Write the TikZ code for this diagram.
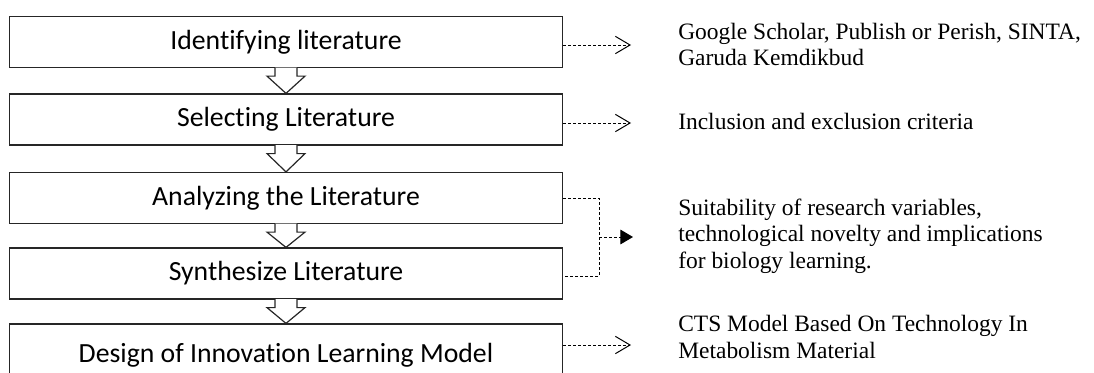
\documentclass[tikz,border=0pt]{standalone}
\usepackage{fontspec}
\setmainfont{Liberation Serif}
\newfontfamily\calibri[Ligatures={NoCommon}]{Carlito}
\usetikzlibrary{arrows.meta,calc}

\begin{document}
\begin{tikzpicture}[x=0.75pt, y=-0.75pt,
    stage/.style={draw=black!85, line width=0.9pt, minimum width=415pt,
        minimum height=38.25pt, inner sep=0pt,
        font=\calibri\fontsize{20.8}{24}\selectfont},
    note/.style={anchor=west, align=left, inner sep=0pt,
        font=\fontsize{17.6}{19.9}\selectfont},
    dashline/.style={dash pattern=on 2.25pt off 1.5pt, line width=0.75pt},
    link/.style={dashline, -{Straight Barb[length=11pt, width=13pt]}},
    hollow/.style={fill=white, draw=black!85, line width=0.9pt, line join=miter}]
    \useasboundingbox (0,0) rectangle (1094,372);
    \clip (0,0) rectangle (1094,372);

    % Steps of the review
    \node[stage] (ident) at (286,42) {Identifying literature};
    \node[stage] (select) at (286,119.5) {Selecting Literature};
    \node[stage] (analyze) at (286,198) {Analyzing the Literature};
    \node[stage] (synth) at (286,273.5) {Synthesize Literature};
    \node[stage, minimum height=46.5pt] (design) at (286,355) {Design of Innovation Learning Model};

    % Block arrows between the steps
    \foreach \a/\b in {ident/select, select/analyze, analyze/synth, synth/design}
        \filldraw[hollow] ($(\a.south)+(-11,-0.6)$) -- ++(0,8.6) -- ++(-8,0)
            -- (\b.north) -- ($(\a.south)+(19,8)$) -- ++(-8,0) -- ++(0,-8.6);

    % Notes on the right
    \node[note] (srcnote) at (678,44.5) {Google Scholar, Publish or Perish, SINTA,\\Garuda Kemdikbud};
    \node[note] (critnote) at (678,121) {Inclusion and exclusion criteria};
    \node[note] (evalnote) at (678,236) {Suitability of research variables,\\technological novelty and implications\\for biology learning.};
    \node[note] (modelnote) at (678,337) {CTS Model Based On Technology In\\Metabolism Material};

    % Dashed links
    \coordinate (srcTip) at (631,45);
    \coordinate (critTip) at (631,123);
    \coordinate (modelTip) at (631,345);
    \draw[link] (srcTip -| ident.east) -- (srcTip);
    \draw[link] (critTip -| select.east) -- (critTip);
    \draw[link] (modelTip -| design.east) -- (modelTip);

    \coordinate (evalJoin) at (599,237);
    \coordinate (evalTip) at (633,237);
    \draw[dashline] (analyze.east) -| (evalJoin) |- ($(synth.east)+(0,3)$);
    \draw[dashline, -{Triangle[length=9.5pt, width=11pt]}] (evalJoin) -- (evalTip);
\end{tikzpicture}
\end{document}
